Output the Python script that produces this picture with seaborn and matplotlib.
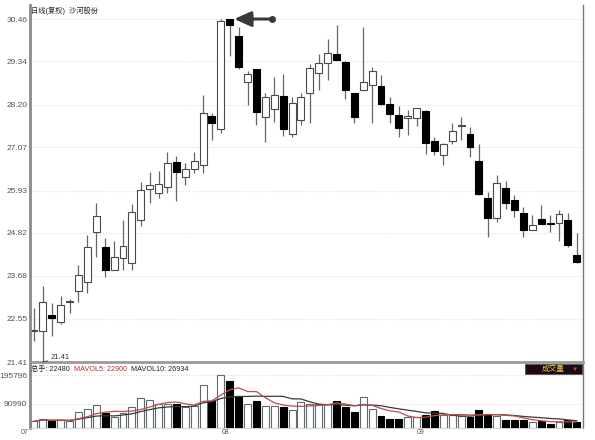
import numpy as np
import pandas as pd
import seaborn as sns
import matplotlib.pyplot as plt
import matplotlib.patheffects as pe
import matplotlib.transforms as mtransforms
from matplotlib.patches import Rectangle

# Daily candles (July - September)
opens = [22.23, 22.23, 22.65, 22.47, 22.99, 23.28, 23.53, 24.85, 24.44, 23.84,
         24.15, 24.03, 25.16, 25.97, 25.86, 26.03, 26.69, 26.30, 26.49, 26.61,
         27.90, 27.55, 30.46, 30.01, 28.81, 29.13, 27.88, 28.08, 28.43, 27.43,
         27.80, 28.50, 29.04, 29.31, 29.54, 29.33, 28.52, 28.59, 28.72, 28.69,
         28.22, 27.93, 27.84, 27.84, 28.04, 27.25, 26.87, 27.25, 27.64, 27.43,
         26.72, 25.73, 25.20, 25.99, 25.68, 25.33, 24.89, 25.18, 25.07, 25.07,
         25.17, 24.23]
highs = [22.83, 23.41, 22.97, 23.15, 23.07, 23.97, 24.76, 25.61, 24.67, 24.61,
         25.16, 25.58, 26.17, 26.43, 26.46, 26.95, 26.85, 26.67, 26.95, 28.45,
         27.97, 30.45, 30.46, 30.26, 29.10, 29.13, 28.50, 28.94, 29.01, 28.39,
         28.50, 29.27, 29.55, 29.92, 30.30, 29.35, 28.52, 30.24, 29.20, 28.98,
         28.39, 28.16, 28.06, 28.12, 28.06, 27.36, 27.20, 27.71, 27.88, 27.60,
         27.16, 25.90, 26.34, 26.19, 25.82, 25.49, 25.29, 25.55, 25.29, 25.42,
         25.33, 24.82]
lows = [21.97, 21.41, 22.10, 22.42, 22.71, 23.00, 23.23, 24.19, 23.65, 23.84,
        23.84, 23.84, 24.99, 25.61, 25.73, 25.86, 25.67, 26.08, 26.39, 26.39,
        27.28, 27.46, 29.48, 29.15, 28.19, 27.66, 27.22, 27.75, 27.37, 27.34,
        27.66, 27.72, 28.59, 28.86, 29.38, 28.36, 27.72, 28.59, 27.72, 28.20,
        27.72, 27.34, 27.40, 27.64, 26.91, 26.87, 26.61, 27.16, 27.28, 26.83,
        25.82, 24.70, 25.11, 25.44, 25.24, 24.70, 24.88, 25.04, 24.85, 24.61,
        24.45, 24.03]
closes = [22.24, 23.00, 22.58, 22.91, 23.01, 23.71, 24.45, 25.26, 23.84, 24.17,
          24.47, 25.38, 25.95, 26.08, 26.11, 26.65, 26.43, 26.49, 26.72, 27.97,
          27.72, 30.42, 30.30, 29.19, 29.01, 28.01, 28.39, 28.45, 27.55, 28.24,
          28.39, 29.16, 29.29, 29.57, 29.38, 28.59, 27.87, 28.81, 29.10, 28.22,
          27.95, 27.58, 27.90, 28.10, 27.18, 26.99, 27.16, 27.51, 27.66, 27.08,
          25.84, 25.20, 26.14, 25.60, 25.42, 24.89, 25.02, 25.05, 25.05, 25.32,
          24.50, 24.06]
volumes = [24700, 34700, 27000, 29700, 24700, 58000, 70600, 84000, 57000, 39500,
           57000, 78000, 111700, 104000, 89000, 90600, 89000, 76800, 80500, 158600,
           101600, 195796, 173600, 117600, 89000, 101600, 80500, 80500, 76800, 68000,
           96600, 89000, 89000, 89000, 101600, 76800, 58000, 114000, 70600, 43000,
           34700, 34700, 41000, 41000, 49600, 64400, 47000, 47000, 43000, 39500,
           68000, 53000, 45000, 30000, 28000, 30000, 21860, 25000, 14000, 24000,
           29000, 22480]

price_ticks = [21.41, 22.55, 23.68, 24.82, 25.93, 27.07, 28.20, 29.34, 30.46]
volume_ticks = [90990, 195796]
month_labels = ["07", "08", "09"]
month_label_pos = [-1.0, 21.5, 43.5]
title = "日线(复权)  沙河股份"
vol_texts = ["总手: 22480", "MAVOL5: 22900", "MAVOL10: 26934"]
vol_text_colors = ["#222222", "#b8302e", "#222222"]

sns.set_style("white")
plt.rcParams["font.family"] = ["Liberation Sans", "Noto Sans CJK SC", "DejaVu Sans"]

df = pd.DataFrame({"open": opens, "high": highs, "low": lows,
                   "close": closes, "volume": volumes})
df["idx"] = np.arange(len(df))
df["dir"] = np.where(df["close"] >= df["open"], "up", "down")
df["ma5"] = df["volume"].rolling(5, min_periods=1).mean()
df["ma10"] = df["volume"].rolling(10, min_periods=1).mean()

W, H = 595, 440
fig = plt.figure(figsize=(W / 100, H / 100), dpi=100)
fig.patch.set_facecolor("white")
ax = fig.add_axes([30 / W, 1 - 362 / H, 553 / W, 357 / H])
ax_vol = fig.add_axes([30 / W, 1 - 428 / H, 553 / W, 64 / H])

# candles: wicks, then bodies on top
ax.vlines(df["idx"], df["low"], df["high"], color="#666666", lw=0.9, zorder=1)
body_bottom = df[["open", "close"]].min(axis=1)
body_h = (df["close"] - df["open"]).abs().clip(lower=0.03)
face = df["dir"].map({"up": "white", "down": "black"})
edge = df["dir"].map({"up": "#4a4a4a", "down": "black"})
ax.bar(df["idx"], body_h, bottom=body_bottom, width=0.78, color=face,
       edgecolor=edge, linewidth=0.8, zorder=2)

xmin, xmax = -0.45, 61.7
ax.set_xlim(xmin, xmax)
ax.set_ylim(21.41, 30.83)
ax.set_yticks(price_ticks)
ax.set_yticklabels([f"{v:.2f}" for v in price_ticks])
ax.set_xticks([])
ax.tick_params(axis="y", length=0, pad=2, labelsize=6, labelcolor="#555555")
ax.yaxis.grid(True, color="#dddddd", linestyle=(0, (1, 1.5)), lw=0.8)
ax.set_axisbelow(True)
ax.spines["top"].set_visible(False)
ax.spines["left"].set_color("#8a8a8a")
ax.spines["left"].set_linewidth(2)
ax.spines["bottom"].set_color("#9a9a9a")
ax.spines["bottom"].set_linewidth(2)
ax.spines["right"].set_color("#777777")
ax.spines["right"].set_linewidth(1)

# arrow at the highest high
i_max = int(df["high"].idxmax())
h_max = df["high"].max()
ann = ax.annotate("", xy=(i_max + 0.5, h_max), xytext=(i_max + 4.7, h_max),
                  arrowprops=dict(arrowstyle="-|>,head_length=1.0,head_width=0.45",
                                  color="#3a3a3a", lw=2.2, shrinkA=0, shrinkB=0,
                                  mutation_scale=10))
ann.arrow_patch.set_path_effects([pe.SimplePatchShadow(offset=(1.5, -1.5), alpha=0.4),
                                  pe.Normal()])
ax.plot(i_max + 4.7, h_max, "o", ms=4, color="#3a3a3a", zorder=5)

# lowest low label
i_min = int(df["low"].idxmin())
l_min = df["low"].min()
ax.annotate(f"{l_min:.2f}", xy=(i_min, l_min), xytext=(i_min + 0.9, l_min + 0.11),
            fontsize=5.5, color="#333333", va="center", ha="left",
            arrowprops=dict(arrowstyle="-", color="#333333", lw=0.6,
                            shrinkA=0, shrinkB=0), annotation_clip=False)

# volume panel
sns.barplot(data=df, x="idx", y="volume", hue="dir",
            palette={"up": "white", "down": "black"}, native_scale=True,
            dodge=False, width=0.78, edgecolor="#5d6b70", linewidth=0.8,
            legend=False, errorbar=None, ax=ax_vol)
for p in ax_vol.patches:
    if p.get_facecolor()[0] < 0.5:
        p.set_edgecolor("black")
sns.lineplot(data=df, x="idx", y="ma10", color="#3a3a3a", lw=0.9, ax=ax_vol)
sns.lineplot(data=df, x="idx", y="ma5", color="#b8504e", lw=0.9, ax=ax_vol)
ax_vol.set_xlim(xmin, xmax)
ax_vol.set_ylim(0, 238000)
ax_vol.set_yticks(volume_ticks)
ax_vol.set_yticklabels([str(v) for v in volume_ticks])
ax_vol.set_xticks([])
ax_vol.set_xlabel("")
ax_vol.set_ylabel("")
ax_vol.tick_params(axis="y", length=0, pad=2, labelsize=6, labelcolor="#555555")
ax_vol.yaxis.grid(True, color="#dddddd", linestyle=(0, (1, 1.5)), lw=0.8)
ax_vol.set_axisbelow(True)
ax_vol.spines["top"].set_visible(False)
ax_vol.spines["left"].set_color("#8a8a8a")
ax_vol.spines["left"].set_linewidth(2)
ax_vol.spines["right"].set_color("#777777")
ax_vol.spines["right"].set_linewidth(1)
ax_vol.spines["bottom"].set_color("#cccccc")
ax_vol.spines["bottom"].set_linewidth(0.6)

trans = mtransforms.blended_transform_factory(ax_vol.transData, ax_vol.transAxes)
for pos, lab in zip(month_label_pos, month_labels):
    ax_vol.text(pos, -0.07, lab, transform=trans, ha="center", va="center",
                fontsize=5, color="#555555", clip_on=False)

# header texts
fig.text(31 / W, 1 - 11 / H, title, fontsize=5.2, va="center", ha="left", color="#222222")

# volume legend pieces chained one after another
anchor = fig.text(31 / W, 1 - 369 / H, vol_texts[0], fontsize=5.2, va="center",
                  ha="left", color=vol_text_colors[0])
for txt, col in zip(vol_texts[1:], vol_text_colors[1:]):
    anchor = fig.add_artist(plt.Annotation(txt, xy=(1, 0.5), xycoords=anchor,
                                           xytext=(3, 0), textcoords="offset points",
                                           fontsize=5.2, va="center", ha="left",
                                           color=col))

# "成交量" selector box
fig.patches.append(Rectangle((525 / W, 1 - 374 / H), 57 / W, 10 / H,
                             transform=fig.transFigure, facecolor="#1e0a12",
                             edgecolor="#555555", lw=0.6))
fig.text(553 / W, 1 - 369 / H, "成交量", fontsize=5.5, color="#e6d24a",
         ha="center", va="center")
fig.text(575 / W, 1 - 369 / H, "▼", fontsize=4.5, color="#d0307a",
         ha="center", va="center")

plt.savefig("out.png", dpi=100)
